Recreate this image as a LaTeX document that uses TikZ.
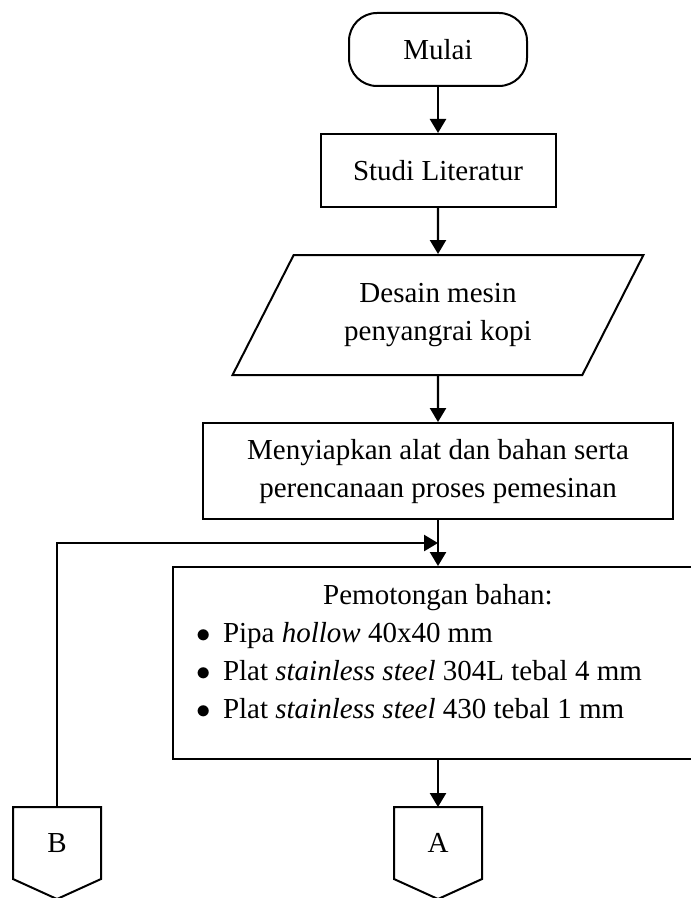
\documentclass[tikz,border=0pt]{standalone}
\usepackage{fontspec}
\setmainfont{Liberation Serif}
\usetikzlibrary{arrows.meta,positioning,calc,shapes.geometric}

\begin{document}
\begin{tikzpicture}[
x=0.5pt,y=-0.5pt,
font=\fontsize{14.5}{19}\selectfont,
terminal/.style={draw,line width=1pt,rounded corners=14pt,minimum width=89pt,minimum height=36.5pt},
proses/.style={draw,line width=1pt,align=center,minimum height=36.5pt},
data/.style={draw,line width=1pt,trapezium,trapezium left angle=61,trapezium right angle=119,trapezium stretches=true,minimum width=205.5pt,minimum height=60pt,align=center},
conn/.style={minimum width=44pt,minimum height=36pt,outer sep=0pt},
arr/.style={-{Triangle[length=7pt,width=8pt]},line width=1.2pt},
node distance=23pt
]
\useasboundingbox (0,0) rectangle (690,898);
\node[terminal] (m) at (438,49.5) {Mulai};
\node[proses,minimum width=117.5pt,below=of m] (s) {Studi Literatur};
\node[data,below=of s] (d) {Desain mesin\\penyangrai kopi};
\node[proses,minimum width=235pt,minimum height=48pt,below=of d] (n) {Menyiapkan alat dan bahan serta\\perencanaan proses pemesinan};
\node[proses,minimum width=265pt,minimum height=96pt,text width=265pt,inner xsep=0pt,align=flush left,below=of n] (p) {%
\makebox[265pt]{Pemotongan bahan:}\\
\hspace*{11.5pt}\makebox[13.5pt][l]{$\bullet$}Pipa \textit{hollow} 40x40 mm\\
\hspace*{11.5pt}\makebox[13.5pt][l]{$\bullet$}Plat \textit{stainless steel} 304L tebal 4 mm\\
\hspace*{11.5pt}\makebox[13.5pt][l]{$\bullet$}Plat \textit{stainless steel} 430 tebal 1 mm\rule[-12pt]{0pt}{12pt}};
\node[conn,below=23.5pt of p] (a) {A};
\node[conn,left=146.5pt of a] (b) {B};
% off-page connectors
\foreach \c in {a,b}
  \draw[line width=1pt] (\c.north west) -- (\c.north east) -- (\c.south east)
    -- ([yshift=-10pt]\c.south) -- (\c.south west) -- cycle;
\coordinate (j) at ($(n.south)!0.5!(p.north)$);
\draw[arr] (m) -- (s);
\draw[arr] (s) -- (d);
\draw[arr] (d) -- (n);
\draw[arr] (n) -- (p);
\draw[arr] (b.north) |- (j);
\draw[arr] (p) -- (a);
\end{tikzpicture}
\end{document}
